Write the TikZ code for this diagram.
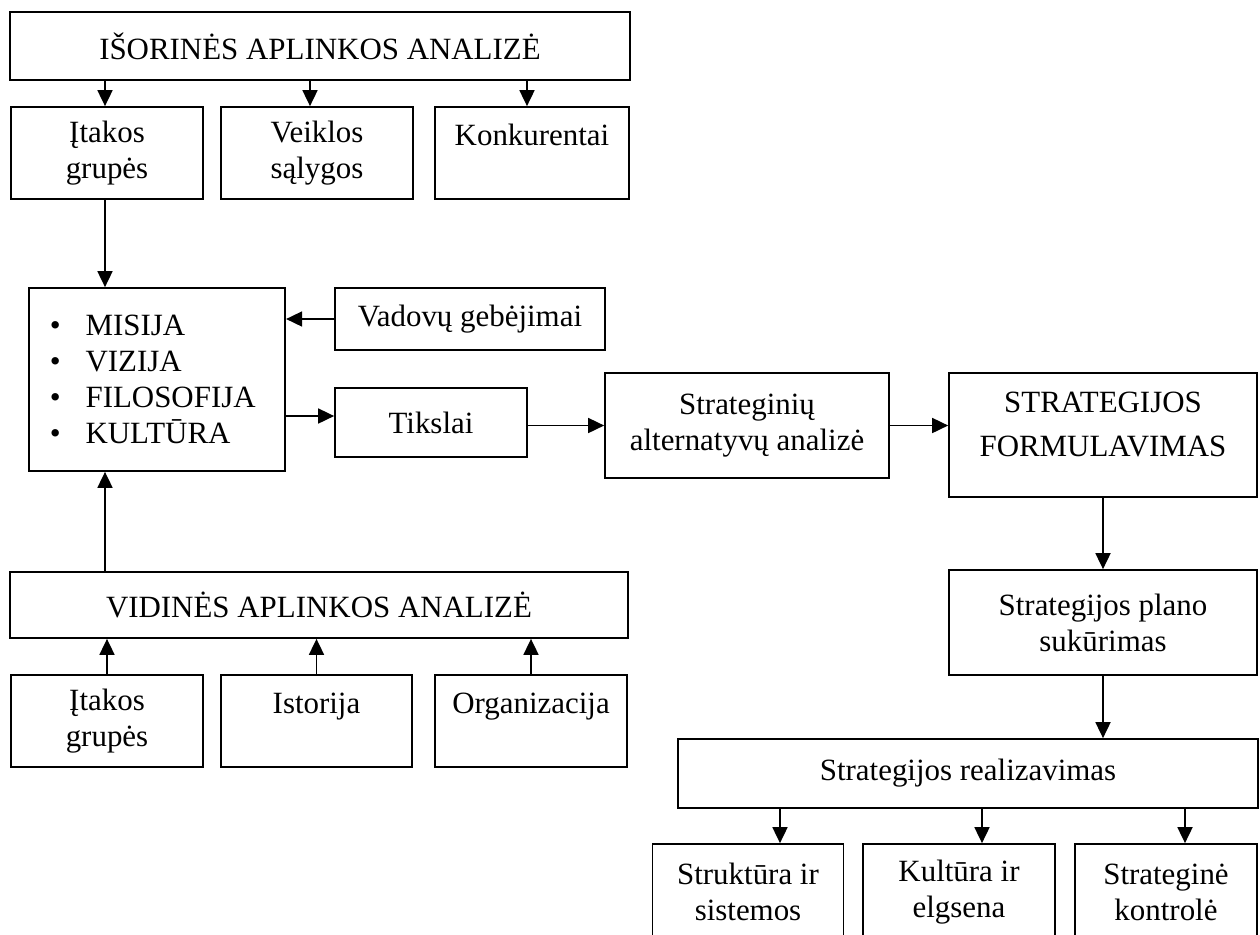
\documentclass[tikz,border=0pt]{standalone}
\usepackage{fontspec}
\setmainfont{Liberation Serif}
\usetikzlibrary{arrows.meta}

\begin{document}
\begin{tikzpicture}[x=0.02cm, y=-0.02cm,
        font=\fontsize{17.6}{20.5}\selectfont,
        blokas/.style={draw, line width=1pt, inner sep=0pt, align=center},
        rodykle/.style={line width=1pt, -{Triangle[length=0.32cm, width=0.3cm]}}]
        \clip (0, 0) rectangle (1260, 934);

        % isorine aplinka
        \node[blokas, minimum width=12.39cm, minimum height=1.36cm] at (320, 46)(isor){IŠORINĖS APLINKOS ANALIZĖ};
        \node[blokas, minimum width=3.85cm, minimum height=1.84cm] at (107, 153)(itak1){Įtakos\\grupės};
        \node[blokas, minimum width=3.84cm, minimum height=1.84cm] at (317, 153)(veikl){Veiklos\\sąlygos};
        \node[blokas, minimum width=3.88cm, minimum height=1.84cm] at (532, 153)(konk){Konkurentai\\\mbox{}};

        % misija ir tikslai
        \node[blokas, align=left, text width=4.29cm, inner xsep=0.42cm, minimum height=3.66cm] at (157, 379.5)(misija)
            {\textbullet\hspace{0.5cm}MISIJA\\\textbullet\hspace{0.5cm}VIZIJA\\\textbullet\hspace{0.5cm}FILOSOFIJA\\\textbullet\hspace{0.5cm}KULTŪRA};
        \node[blokas, minimum width=5.4cm, minimum height=1.24cm] at (470, 319)(vadov){Vadovų gebėjimai};
        \node[blokas, minimum width=3.84cm, minimum height=1.38cm] at (431, 422.5)(tiksl){Tikslai};
        \node[blokas, minimum width=5.68cm, minimum height=2.1cm] at (747, 425.5)(strat){Strateginių\\alternatyvų analizė};
        \node[blokas, minimum width=6.16cm, minimum height=2.48cm] at (1103, 435)(formul){STRATEGIJOS\\[0.16cm]FORMULAVIMAS\\[-0.31cm]\mbox{}};
        \node[blokas, minimum width=6.16cm, minimum height=2.1cm] at (1103, 622.5)(plan){Strategijos plano\\sukūrimas};

        % realizavimas
        \node[blokas, minimum width=11.6cm, minimum height=1.38cm] at (968, 773.5)(realiz){Strategijos realizavimas};
        \node[blokas, minimum width=3.82cm, minimum height=1.92cm] at (748, 892)(strukt){Struktūra ir\\sistemos};
        \node[blokas, minimum width=3.84cm, minimum height=1.92cm] at (959, 892)(kultur){Kultūra ir\\elgsena};
        \node[blokas, minimum width=3.64cm, minimum height=1.92cm] at (1166, 892)(kontr){Strateginė\\kontrolė};

        % vidine aplinka
        \node[blokas, minimum width=12.35cm, minimum height=1.32cm] at (319, 605)(vidin){VIDINĖS APLINKOS ANALIZĖ};
        \node[blokas, minimum width=3.85cm, minimum height=1.84cm] at (107, 721)(itak2){Įtakos\\grupės};
        \node[blokas, minimum width=3.82cm, minimum height=1.84cm] at (316.5, 721)(istor){Istorija\\\mbox{}};
        \node[blokas, minimum width=3.84cm, minimum height=1.84cm] at (531, 721)(organ){Organizacija\\\mbox{}};

        \coordinate (t1) at ([yshift=0.13cm]tiksl.west);
        \coordinate (i1) at ([xshift=-0.04cm]itak1.north);
        \coordinate (i2) at ([xshift=-0.14cm]veikl.north);
        \coordinate (i3) at ([xshift=-0.1cm]konk.north);
        \coordinate (r1) at ([xshift=0.64cm]strukt.north);
        \coordinate (r2) at ([xshift=0.46cm]kultur.north);
        \coordinate (r3) at ([xshift=0.38cm]kontr.north);

        \path[rodykle]
        (i1 |- isor.south)edge(i1)
        (i2 |- isor.south)edge(i2)
        (i3 |- isor.south)edge(i3)
        (i1 |- itak1.south)edge(i1 |- misija.north)
        (vadov.west)edge(vadov.west -| misija.east)
        (t1 -| misija.east)edge(t1)
        (strat.west -| tiksl.east)edge(strat.west)
        (strat.east)edge(strat.east -| formul.west)
        (formul.south)edge(plan.north)
        (plan.south)edge(plan.south |- realiz.north)
        (r1 |- realiz.south)edge(r1)
        (r2 |- realiz.south)edge(r2)
        (r3 |- realiz.south)edge(r3)
        (i1 |- vidin.north)edge(i1 |- misija.south)
        (itak2.north)edge(itak2.north |- vidin.south)
        (istor.north)edge(istor.north |- vidin.south)
        (organ.north)edge(organ.north |- vidin.south)
        ;
\end{tikzpicture}
\end{document}
